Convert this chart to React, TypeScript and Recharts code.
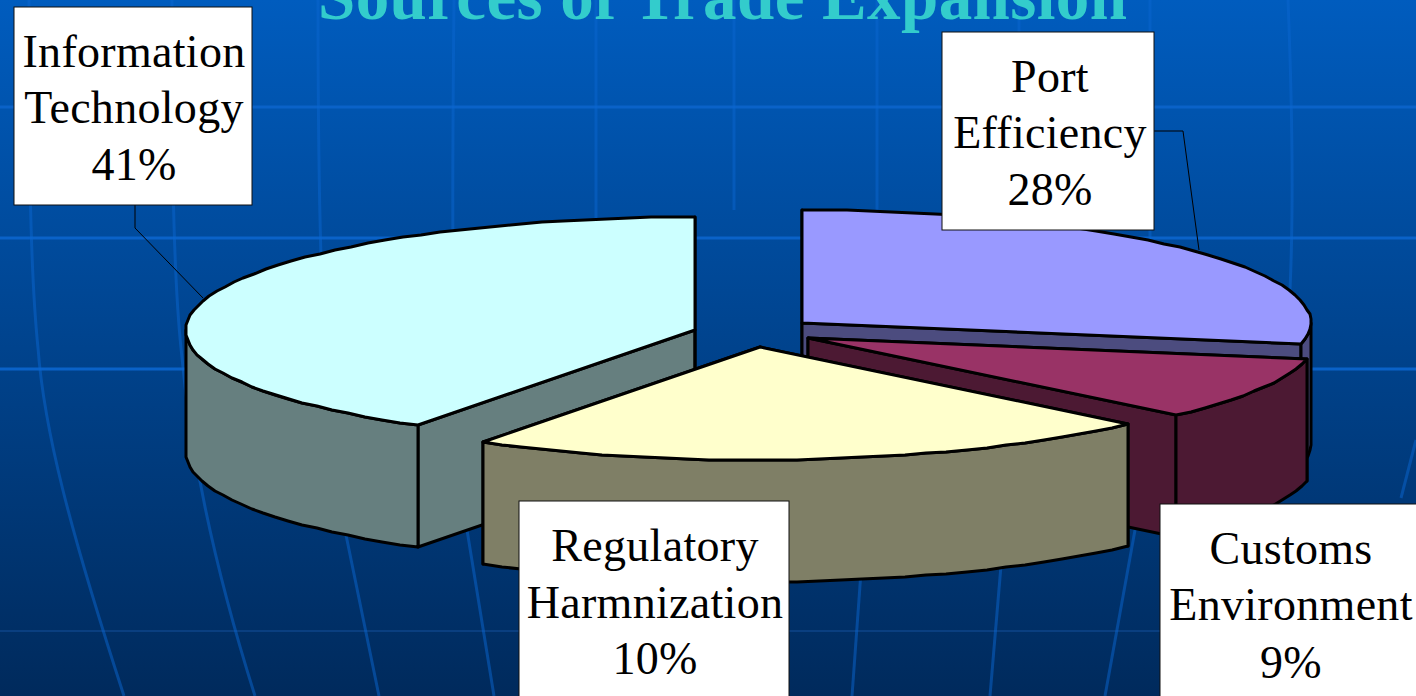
import React from "react";
import { PieChart, Pie } from "recharts";

const WIDTH = 1416;
const HEIGHT = 696;

const sliceNames = ["Information Technology", "Port Efficiency", "Customs Environment", "Regulatory Harmnization"];
// drawn share of the pie; the printed labels do not add up to 100 in the source
const sliceShares = [41, 28, 9, 22];
const labelLines = [
  ["Information", "Technology", "41%"],
  ["Port", "Efficiency", "28%"],
  ["Customs", "Environment", "9%"],
  ["Regulatory", "Harmnization", "10%"],
];
const topColors = ["#CCFFFF", "#9999FF", "#993366", "#FFFFCC"];
const sideColors = ["#667F7F", "#4C4C7F", "#4C1933", "#7F7F66"];

// layout of the fake 3D pie
const CX = 750;
const CY = 335;
const RX = 509;
const RY = 113;
const DEPTH = 122;
const SKEW = 5; // front of the rim leans left a little in the source
const explode = [
  [-55, -5],
  [52, -12],
  [58, 3],
  [10, 12],
];
const labelBoxes = [
  { x: 14, y: 7, w: 238, h: 198, mid: 134, base: [67, 123, 180] },
  { x: 942, y: 32, w: 212, h: 198, mid: 1050, base: [92, 148, 205] },
  { x: 1160, y: 504, w: 260, h: 198, mid: 1291, base: [564, 620, 678] },
  { x: 519, y: 501, w: 270, h: 198, mid: 655, base: [561, 618, 674] },
];
const leaders = ["135,205 135,228 203,298", "1154,131 1183,131 1199,250", "", ""];

// backdrop grid
const gridRows = [
  { y: 107, color: "#0A62C8", width: 3 },
  { y: 238, color: "#0A62C8", width: 3 },
  { y: 369, color: "#0A62C8", width: 3 },
  { y: 631, color: "#0A3F80", width: 2 },
];
const meridians = [
  "M29 0 C29 120 29 260 38 348 C44 430 70 530 124 696",
  "M172 0 C172 120 172 260 181 348 C190 450 212 560 255 696",
  "M318 0 C318 200 320 400 346 535 L379 696",
  "M454 0 C452 200 450 400 467 530 L494 696",
  "M596 0 L596 220",
  "M734 0 L734 210",
  "M877 0 L877 210",
  "M1019 0 L1019 32",
  "M1150 0 L1150 240",
  "M1288 0 C1292 100 1294 200 1290 290",
  "M864 530 L852 696",
  "M1004 530 L990 696",
  "M1135 530 L1105 696",
  "M1416 440 L1401 498",
];

const chartData = sliceNames.map((name, i) => ({ name, value: sliceShares[i] }));

function PieSlice(props: any) {
  const i = sliceNames.indexOf(props.name ?? props.payload?.name);
  const cx = props.cx + explode[i][0];
  const cy = props.cy + explode[i][1];
  const rx = props.outerRadius;
  const ry = (rx * RY) / RX;
  const start = props.startAngle;
  const end = props.endAngle;
  const pt = (deg: number, drop = 0) => {
    const a = (deg * Math.PI) / 180;
    const s = Math.sin(a);
    const x = cx + rx * Math.cos(a) + SKEW * Math.min(0, s);
    return `${Math.round(x)} ${Math.round(cy - ry * s + drop)}`;
  };
  // the source's rim is a rough polyline, so sample it instead of using an arc
  const arc = (from: number, to: number, drop = 0) => {
    const pts: string[] = [];
    const n = Math.max(1, Math.round(Math.abs(from - to) / 2.5));
    for (let k = 0; k <= n; k++) pts.push(pt(from + ((to - from) * k) / n, drop));
    return pts.join(" L");
  };
  const common = { stroke: "#000", strokeWidth: 3, strokeLinejoin: "round" as const };
  const walls = [start, end].map((a) => (
    <path
      key={a}
      d={`M${cx} ${cy} L${pt(a)} L${pt(a, DEPTH)} L${cx} ${cy + DEPTH} Z`}
      fill={sideColors[i]}
      {...common}
    />
  ));
  // only the part of the rim on the front half of the ellipse shows
  const rims = [
    [360, 180],
    [0, -180],
  ].map(([bandHi, bandLo]) => {
    const hi = Math.min(start, bandHi);
    const lo = Math.max(end, bandLo);
    if (hi <= lo) return null;
    const d = `M${arc(hi, lo)} L${arc(lo, hi, DEPTH)} Z`;
    return <path key={bandHi} d={d} fill={sideColors[i]} {...common} />;
  });
  return (
    <g>
      {walls}
      {rims}
      <path d={`M${cx} ${cy} L${arc(start, end)} Z`} fill={topColors[i]} {...common} />
    </g>
  );
}

function SliceLabel(props: any) {
  const i = props.index;
  const box = labelBoxes[i];
  return (
    <g>
      {leaders[i] && <polyline points={leaders[i]} fill="none" stroke="#000" strokeWidth={1} />}
      <rect x={box.x} y={box.y} width={box.w} height={box.h} fill="#fff" stroke="#111" strokeWidth={1} />
      {labelLines[i].map((line, n) => (
        <text
          key={line}
          x={box.mid}
          y={box.base[n]}
          textAnchor="middle"
          fontFamily="'Liberation Serif', serif"
          fontSize={46}
          letterSpacing={0.3}
          fill="#000"
        >
          {line}
        </text>
      ))}
    </g>
  );
}

export default function App() {
  return (
    <div style={{ position: "absolute", left: 0, top: 0, width: WIDTH, height: HEIGHT, overflow: "hidden" }}>
      <svg width={WIDTH} height={HEIGHT} style={{ position: "absolute", left: 0, top: 0 }}>
        <defs>
          <linearGradient id="bg" x1="0" y1="0" x2="0" y2="1">
            <stop offset="0%" stopColor="#005CBE" />
            <stop offset="100%" stopColor="#002A5C" />
          </linearGradient>
        </defs>
        <rect width={WIDTH} height={HEIGHT} fill="url(#bg)" />
        {gridRows.map((r) => (
          <line key={r.y} x1={0} x2={WIDTH} y1={r.y} y2={r.y} stroke={r.color} strokeWidth={r.width} />
        ))}
        {meridians.map((d) => (
          <path key={d} d={d} fill="none" stroke="#0A66D0" strokeOpacity={0.5} strokeWidth={3} />
        ))}
        <text
          x={318}
          y={19}
          textLength={809}
          fontFamily="'Liberation Serif', serif"
          fontWeight="bold"
          fontSize={67}
          fill="#33CCCC"
        >
          Sources of Trade Expansion
        </text>
      </svg>
      <div style={{ position: "absolute", left: 0, top: 0 }}>
        <PieChart width={WIDTH} height={HEIGHT} margin={{ top: 0, right: 0, bottom: 0, left: 0 }}>
          <Pie
            data={chartData}
            dataKey="value"
            nameKey="name"
            cx={CX}
            cy={CY}
            outerRadius={RX}
            startAngle={237.6}
            endAngle={-122.4}
            stroke="none"
            shape={PieSlice}
            label={SliceLabel}
            labelLine={false}
            isAnimationActive={false}
          />
        </PieChart>
      </div>
    </div>
  );
}
